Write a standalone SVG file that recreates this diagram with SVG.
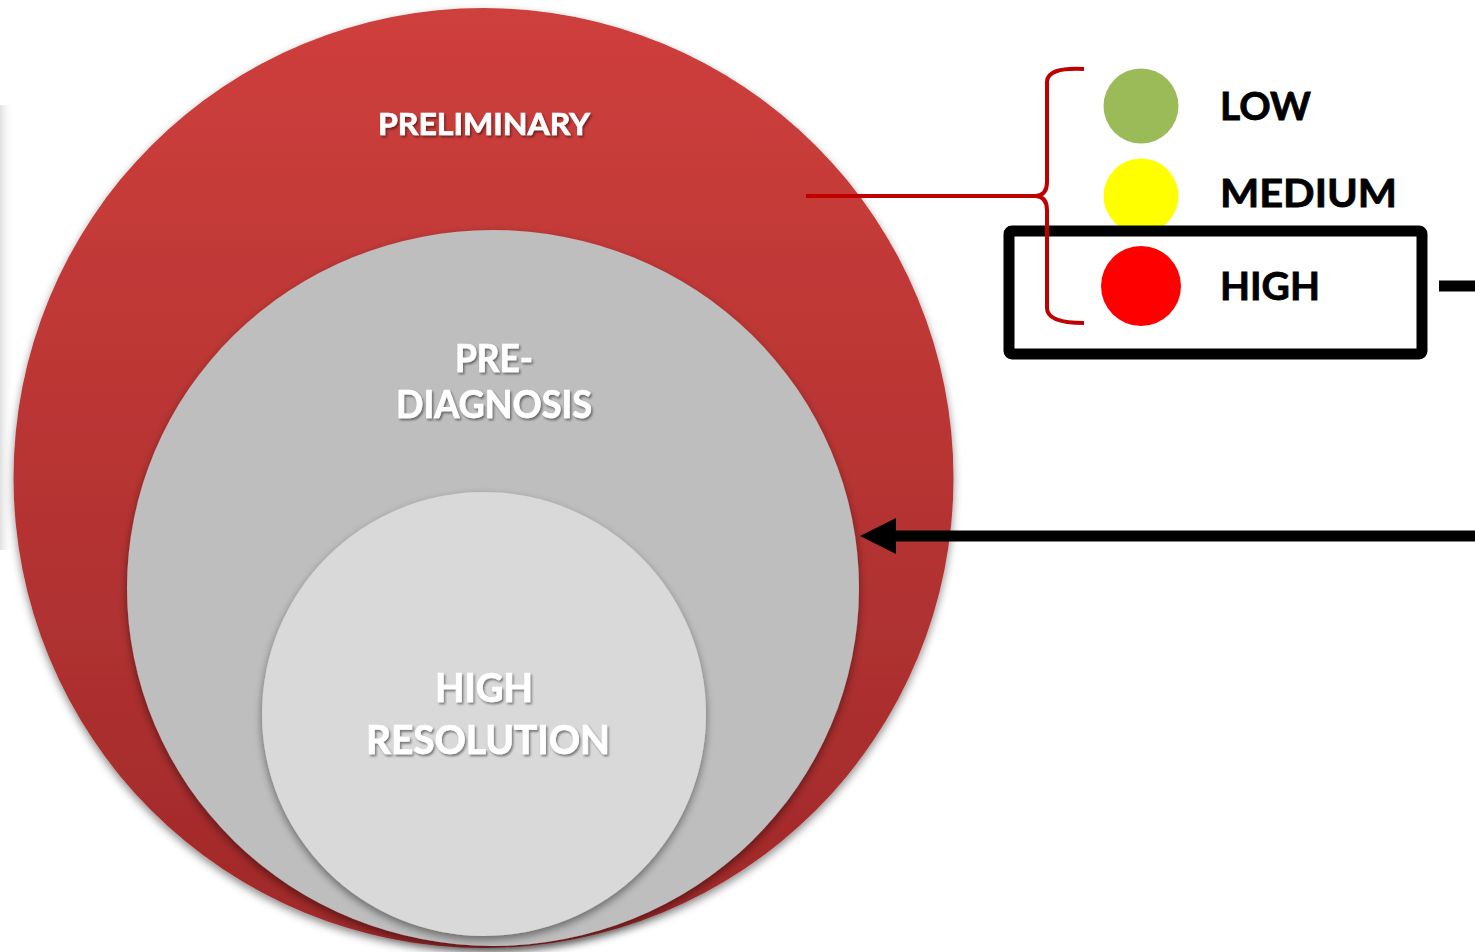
<svg xmlns="http://www.w3.org/2000/svg" width="1475" height="952" viewBox="0 0 1475 952">
  <defs>
    <linearGradient id="redFill" x1="0" y1="0" x2="0" y2="1">
      <stop offset="0" stop-color="#CE3F3C"/>
      <stop offset="1" stop-color="#A0292A"/>
    </linearGradient>
    <linearGradient id="edgeFade" x1="0" y1="0" x2="1" y2="0">
      <stop offset="0" stop-color="#E0E0E0"/>
      <stop offset="1" stop-color="#FFFFFF" stop-opacity="0"/>
    </linearGradient>
    <filter id="discShadow" x="-10%" y="-10%" width="120%" height="125%">
      <feDropShadow dx="0" dy="4" stdDeviation="4" flood-color="#000" flood-opacity="0.45"/>
    </filter>
    <filter id="textShadow" x="-10%" y="-30%" width="120%" height="160%">
      <feDropShadow dx="1.5" dy="2" stdDeviation="1.2" flood-color="#000" flood-opacity="0.45"/>
    </filter>
    <!-- arrowhead: tip drawn forward along the line direction -->
    <marker id="arrowHead" viewBox="0 0 36 36" refX="0" refY="18" markerWidth="36" markerHeight="36" markerUnits="userSpaceOnUse" orient="auto">
      <path d="M0,0 L36,18 L0,36 Z" fill="#000"/>
    </marker>
  </defs>
  <style>
    .disc-label { font-family: Lato, "Open Sans", "Liberation Sans", sans-serif; font-weight: bold; fill: #FFFFFF; stroke: #FFFFFF; stroke-width: 0.7; text-anchor: middle; }
    .legend-label { font-family: Lato, "Open Sans", "Liberation Sans", sans-serif; font-weight: bold; fill: #000000; stroke: #000000; stroke-width: 0.8; }
    .brace { fill: none; stroke: #C00000; stroke-width: 4; }
  </style>

  <rect width="1475" height="952" fill="#FFFFFF"/>
  <rect x="0" y="105" width="14" height="445" fill="url(#edgeFade)"/>

  <!-- nested stages -->
  <g id="preliminary">
    <circle cx="483.5" cy="478" r="470" fill="url(#redFill)" filter="url(#discShadow)"/>
    <text class="disc-label" x="484" y="135" font-size="31" textLength="212" lengthAdjust="spacingAndGlyphs" filter="url(#textShadow)">PRELIMINARY</text>
  </g>
  <g id="pre-diagnosis">
    <ellipse cx="493" cy="588" rx="366" ry="358" fill="#BEBEBE" filter="url(#discShadow)"/>
    <text class="disc-label" x="494" y="372" font-size="39" textLength="78" lengthAdjust="spacingAndGlyphs" filter="url(#textShadow)">PRE-</text>
    <text class="disc-label" x="494" y="418" font-size="39" textLength="196" lengthAdjust="spacingAndGlyphs" filter="url(#textShadow)">DIAGNOSIS</text>
  </g>
  <g id="high-resolution">
    <circle cx="484" cy="714" r="222" fill="#D9D9D9" filter="url(#discShadow)"/>
    <text class="disc-label" x="484" y="702" font-size="41" textLength="98" lengthAdjust="spacingAndGlyphs" filter="url(#textShadow)">HIGH</text>
    <text class="disc-label" x="488" y="754" font-size="41" textLength="244" lengthAdjust="spacingAndGlyphs" filter="url(#textShadow)">RESOLUTION</text>
  </g>

  <!-- risk legend -->
  <g id="legend-low">
    <circle cx="1141" cy="106" r="37.5" fill="#9BBB59"/>
    <text class="legend-label" x="1220" y="120" font-size="39" textLength="91" lengthAdjust="spacingAndGlyphs">LOW</text>
  </g>
  <g id="legend-medium">
    <circle cx="1141" cy="196" r="37.5" fill="#FFFF00"/>
    <text class="legend-label" x="1220" y="207" font-size="39" textLength="177" lengthAdjust="spacingAndGlyphs">MEDIUM</text>
  </g>
  <g id="legend-high">
    <rect x="1009" y="231" width="413" height="123" rx="3" fill="none" stroke="#000" stroke-width="11"/>
    <circle cx="1141" cy="286" r="40" fill="#FF0000"/>
    <text class="legend-label" x="1220" y="300" font-size="39" textLength="100" lengthAdjust="spacingAndGlyphs">HIGH</text>
  </g>

  <!-- connectors -->
  <g id="connectors">
    <path class="brace" d="M1084,69 Q1047,67 1047,82 L1047,182 Q1047,195 1036,196 Q1047,197 1047,210 L1047,308 Q1047,323 1084,323"/>
    <line class="brace" x1="806" y1="196" x2="1038" y2="196"/>
    <line x1="1439" y1="286" x2="1475" y2="286" stroke="#000" stroke-width="11"/>
    <line x1="1475" y1="536" x2="896" y2="536" stroke="#000" stroke-width="11" marker-end="url(#arrowHead)"/>
  </g>
</svg>
